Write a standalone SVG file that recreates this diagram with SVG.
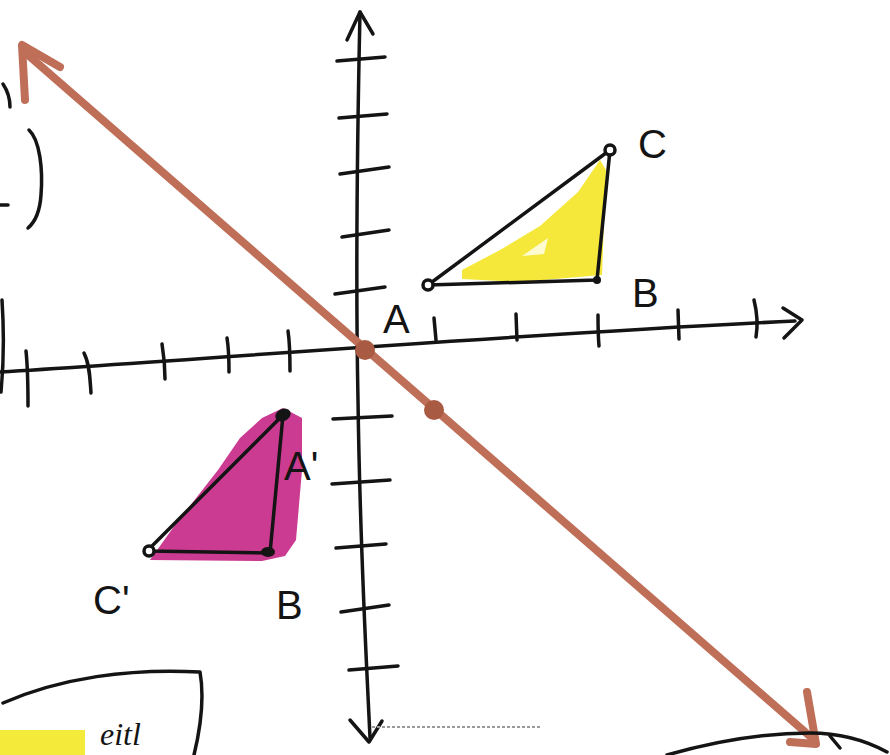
<svg xmlns="http://www.w3.org/2000/svg" width="890" height="755" viewBox="0 0 890 755">
<style>
.ink{fill:none;stroke:#141414;stroke-width:3.5;stroke-linecap:round;stroke-linejoin:round}
.tick{fill:none;stroke:#141414;stroke-width:3.5;stroke-linecap:round}
.brown{fill:none;stroke:#bf6f58;stroke-width:8;stroke-linecap:round;stroke-linejoin:round}
.lbl{font-family:"Liberation Sans",Arial,sans-serif;fill:#141414;font-size:40px}
</style>
<rect width="890" height="755" fill="#ffffff"/>
<g id="axes">
  <path class="ink" d="M0,372 C200,360 500,335 795,321"/>
  <path class="ink" d="M783,308 L802,320 L784,338"/>
  <path class="ink" d="M360,12 C357,150 356,300 358,400 C360,550 366,650 370,738"/>
  <path class="ink" d="M347,40 L360,12 L373,34"/>
  <path class="ink" d="M350,720 L369,742 L382,721"/>
  <path d="M372,727 L540,727" stroke="#9a9a9a" stroke-width="2" stroke-dasharray="3 2" fill="none"/>
  <g id="yticks">
    <path class="tick" d="M337,61 L385,57"/>
    <path class="tick" d="M339,118 L387,114"/>
    <path class="tick" d="M340,174 L389,167"/>
    <path class="tick" d="M342,237 L389,230"/>
    <path class="tick" d="M335,294 L385,287"/>
    <path class="tick" d="M333,419 L392,416"/>
    <path class="tick" d="M332,484 L390,480"/>
    <path class="tick" d="M336,548 L386,544"/>
    <path class="tick" d="M341,612 L389,605"/>
    <path class="tick" d="M349,670 L398,666"/>
  </g>
  <g id="xticks">
    <path class="tick" d="M26,351 C28,370 28,390 28,406"/>
    <path class="tick" d="M84,353 C90,365 90,380 91,393"/>
    <path class="tick" d="M162,344 C164,356 165,368 165,379"/>
    <path class="tick" d="M227,338 C229,350 229,362 229,372"/>
    <path class="tick" d="M288,331 C290,344 290,358 290,371"/>
    <path class="tick" d="M434,318 L436,340"/>
    <path class="tick" d="M516,314 L517,340"/>
    <path class="tick" d="M598,315 C598,325 598,335 599,346"/>
    <path class="tick" d="M678,310 L679,339"/>
    <path class="tick" d="M754,300 C757,312 758,325 756,337"/>
  </g>
</g>
<g id="connectors">
  <path class="brown" d="M28,55 L812,738" stroke-width="7"/>
  <path class="brown" d="M60,67 L22,45 L25,100" stroke="#b8604a" stroke-width="10"/>
  <path class="brown" d="M807,692 L816,744 L790,742" stroke="#b8604a" stroke-width="10"/>
  <circle cx="365" cy="350" r="10" fill="#a95a42"/>
  <circle cx="434" cy="410" r="10" fill="#a95a42"/>
</g>
<g id="triangle-ABC">
  <polygon points="462,270 500,250 540,226 578,192 600,160 606,170 602,275 520,282 462,279" fill="#f5e83a"/>
  <polygon points="522,256 548,238 544,254" fill="#fffbd0"/>
  <path class="ink" d="M428,285 L597,280 L610,150 Z"/>
  <circle cx="428" cy="285" r="5" fill="#fff" stroke="#141414" stroke-width="3.5"/>
  <circle cx="597" cy="280" r="4" fill="#141414"/>
  <circle cx="610" cy="150" r="5" fill="#fff" stroke="#141414" stroke-width="3.5"/>
  <text class="lbl" x="383" y="333" font-size="36">A</text>
  <text class="lbl" x="632" y="307">B</text>
  <text class="lbl" x="638" y="158">C</text>
</g>
<g id="triangle-A1B1C1">
  <polygon points="150,560 175,525 218,470 240,438 262,418 283,408 302,418 302,470 296,540 285,556 262,561" fill="#cb3b91"/>
  <path class="ink" d="M283,415 L270,553 L147,551 Z"/>
  <ellipse cx="283" cy="415" rx="8" ry="6" transform="rotate(-25 283 415)" fill="#141414"/>
  <ellipse cx="268" cy="552" rx="7" ry="5" fill="#141414"/>
  <circle cx="149" cy="551" r="5" fill="#fff" stroke="#141414" stroke-width="3.5"/>
  <text class="lbl" x="284" y="480" font-size="36">A'</text>
  <text class="lbl" x="276" y="619">B</text>
  <text class="lbl" x="93" y="614" font-size="38">C'</text>
</g>
<g id="margin-marks">
  <path class="ink" d="M29,130 C40,140 43,170 41,195 C40,210 35,222 28,228" stroke-width="3"/>
  <path class="ink" d="M0,205 L8,205" stroke-width="3"/>
  <path class="ink" d="M3,84 C7,90 10,98 10,107" stroke-width="2"/>
  <path class="ink" d="M2,300 C4,330 4,360 1,392" stroke-width="4"/>
  <path class="ink" d="M3,703 C60,678 130,668 200,672 C205,700 200,730 194,755" stroke-width="3"/>
  <rect x="0" y="730" width="85" height="25" fill="#f3ea3a"/>
  <text x="100" y="745" font-family="Liberation Serif,serif" font-style="italic" font-size="32" fill="#141414">eitl</text>
  <path class="ink" d="M667,755 C720,740 770,733 810,733 C840,733 865,740 887,752" stroke-width="3.5"/>
  <path class="ink" d="M830,736 L840,748" stroke-width="2.5"/>
</g>
</svg>
